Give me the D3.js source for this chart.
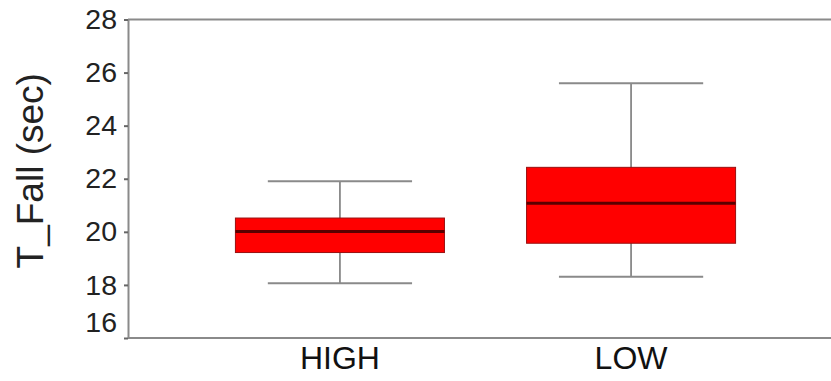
<!DOCTYPE html>
<html>
<head>
<meta charset="utf-8">
<script src="https://cdn.jsdelivr.net/npm/d3@7"></script>
<style>
  body { margin: 0; background: white; }
  svg { display: block; font-family: "Liberation Sans", Arial, sans-serif; }
</style>
</head>
<body>
<div id="chart"></div>
<script>
const groups = ["HIGH", "LOW"];
const whiskerLow = [18.06, 18.31];
const q1 = [19.22, 19.57];
const medians = [20.01, 21.08];
const q3 = [20.52, 22.43];
const whiskerHigh = [21.91, 25.6];
const yTicks = [16, 18, 20, 22, 24, 26, 28];

const W = 831, H = 381;
const MARGIN = { TOP: 19.5, BOTTOM: 43, LEFT: 128, RIGHT: -12 };

const svg = d3.select("#chart")
  .append("svg")
  .attr("width", W)
  .attr("height", H)
  .style("background", "white");

const data = groups.map((g, i) => ({
  group: g,
  lo: whiskerLow[i],
  q1: q1[i],
  med: medians[i],
  q3: q3[i],
  hi: whiskerHigh[i],
}));

const y = d3.scaleLinear()
  .domain([16, 28])
  .range([H - MARGIN.BOTTOM, MARGIN.TOP]);

const x = d3.scaleBand()
  .domain(groups)
  .range([MARGIN.LEFT, W - MARGIN.RIGHT])
  .paddingInner(0.282)
  .paddingOuter(0.369);

// top frame line
svg.append("line")
  .attr("x1", MARGIN.LEFT).attr("x2", W)
  .attr("y1", y(28)).attr("y2", y(28))
  .attr("stroke", "#8a8a8a").attr("stroke-width", 2);

// y axis
const yAxis = svg.append("g")
  .attr("transform", `translate(${MARGIN.LEFT},0)`)
  .call(d3.axisLeft(y).tickValues(yTicks).tickSize(4).tickPadding(7).tickSizeOuter(0));
yAxis.select(".domain").attr("stroke", "#8a8a8a").attr("stroke-width", 2);
yAxis.selectAll(".tick line").attr("stroke", "#666").attr("stroke-width", 2);
yAxis.selectAll(".tick text")
  .attr("fill", "#222")
  .style("font-size", "28.5px")
  // the 16 label sits above the bottom line in the original
  .attr("dy", (d) => (d === 16 ? "-0.22em" : "0.32em"));

// x axis
const xAxis = svg.append("g")
  .attr("transform", `translate(0,${y(16)})`)
  .call(d3.axisBottom(x).tickSize(0).tickPadding(8).tickSizeOuter(0));
xAxis.select(".domain").attr("stroke", "#8a8a8a").attr("stroke-width", 2)
  .attr("d", `M${MARGIN.LEFT},0H${W}`);
xAxis.selectAll(".tick text")
  .attr("fill", "#111")
  .style("font-size", "32px");

// y label
svg.append("text")
  .attr("transform", `translate(43,${(y(16) + y(28)) / 2 - 8}) rotate(-90)`)
  .attr("text-anchor", "middle")
  .attr("fill", "#222")
  .style("font-size", "37px")
  .text("T_Fall (sec)");

const box = svg.selectAll(".box").data(data).enter().append("g").attr("class", "box");
const bw = x.bandwidth();
const capW = bw * 0.69;

box.append("line")
  .attr("x1", (d) => x(d.group) + bw / 2)
  .attr("x2", (d) => x(d.group) + bw / 2)
  .attr("y1", (d) => y(d.hi))
  .attr("y2", (d) => y(d.lo))
  .attr("stroke", "#707070").attr("stroke-width", 1.5);

box.append("line")
  .attr("x1", (d) => x(d.group) + (bw - capW) / 2)
  .attr("x2", (d) => x(d.group) + (bw + capW) / 2)
  .attr("y1", (d) => y(d.hi))
  .attr("y2", (d) => y(d.hi))
  .attr("stroke", "#8a8a8a").attr("stroke-width", 2);

box.append("line")
  .attr("x1", (d) => x(d.group) + (bw - capW) / 2)
  .attr("x2", (d) => x(d.group) + (bw + capW) / 2)
  .attr("y1", (d) => y(d.lo))
  .attr("y2", (d) => y(d.lo))
  .attr("stroke", "#8a8a8a").attr("stroke-width", 2);

box.append("rect")
  .attr("x", (d) => x(d.group))
  .attr("y", (d) => y(d.q3))
  .attr("width", bw)
  .attr("height", (d) => y(d.q1) - y(d.q3))
  .attr("fill", "#ff0000")
  .attr("stroke", "#9a1010").attr("stroke-width", 1);

box.append("line")
  .attr("x1", (d) => x(d.group))
  .attr("x2", (d) => x(d.group) + bw)
  .attr("y1", (d) => y(d.med))
  .attr("y2", (d) => y(d.med))
  .attr("stroke", "#5a0000").attr("stroke-width", 3);
</script>
</body>
</html>
